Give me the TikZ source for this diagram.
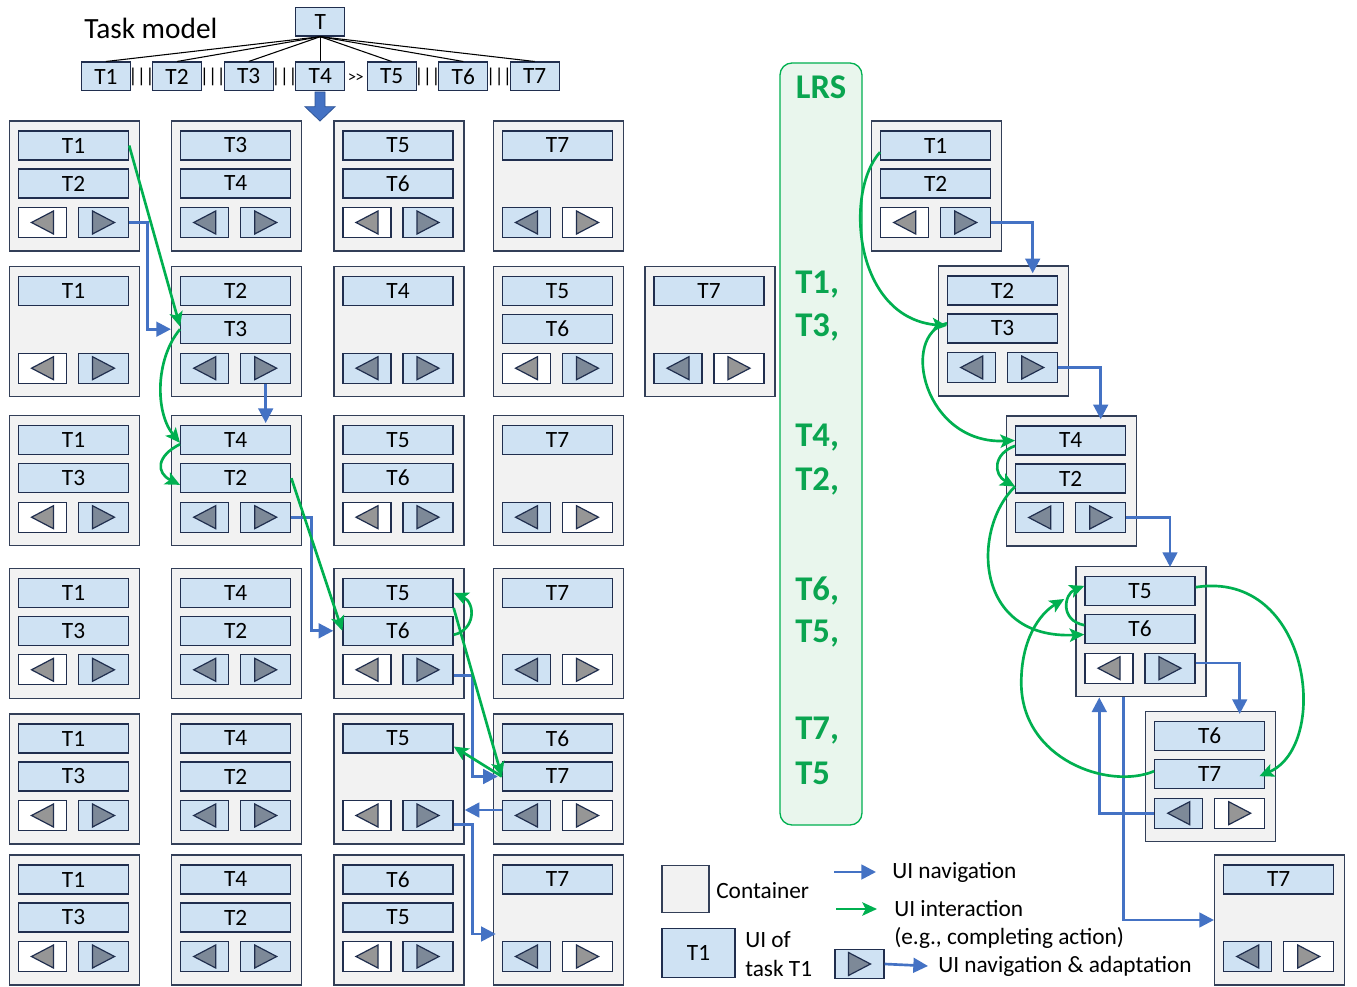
\documentclass[tikz,border=0pt]{standalone}
\usepackage{fontspec}
\setmainfont{Carlito}
\usetikzlibrary{calc,arrows.meta}
\definecolor{navblue}{RGB}{68,114,196}
\definecolor{navdark}{RGB}{47,85,151}
\definecolor{intgreen}{RGB}{0,176,80}
\definecolor{lrsgreen}{RGB}{10,165,80}
\definecolor{contfill}{RGB}{242,242,242}
\definecolor{contline}{RGB}{51,63,88}
\definecolor{slotfill}{RGB}{207,226,243}
\definecolor{slotline}{RGB}{32,46,78}
\definecolor{tridark}{RGB}{125,137,152}
\definecolor{trilight}{RGB}{150,150,150}
\definecolor{lrsfill}{RGB}{233,246,237}

\newcommand\mkcont[7]{%
  \node[cont] (#1) at (#2+65,#3+65) {};
  \node[slot] (#1a) at (#2+64,#3+24.5) {#4};
  \ifx\relax#5\relax\else\node[slot] (#1b) at (#2+64,#3+62.5) {#5};\fi
  \node[btn#6,minimum width=36pt] (#1l) at (#2+33,#3+101.5) {};
  \node[btn#7,minimum width=37.5pt] (#1r) at (#2+94,#3+101.5) {};
  \draw[tri#6] ($(#1l)+(-11,0)$) -- ++(22,-11.5) -- ++(0,23) -- cycle;
  \draw[tri#7] ($(#1r)+(11,0)$) -- ++(-22,-11.5) -- ++(0,23) -- cycle;
}
\newcommand\bars{|\kern-0.6pt|\kern-0.6pt|}

\begin{document}
\begin{tikzpicture}[x=0.75pt,y=-0.75pt,
  cont/.style={draw=contline, fill=contfill, line width=1.1pt, minimum width=97.5pt, minimum height=97.5pt, inner sep=0pt},
  slot/.style={draw=slotline, fill=slotfill, line width=1pt, minimum width=82.5pt, minimum height=21.75pt, inner sep=0pt, font=\fontsize{17.5}{20}\selectfont},
  btnw/.style={draw=slotline, fill=white, line width=1pt, minimum height=22.5pt, inner sep=0pt},
  btnb/.style={btnw, fill=slotfill},
  triw/.style={draw=slotline, fill=trilight, line width=0.9pt, line join=miter},
  trib/.style={triw, fill=tridark},
  nav/.style={draw=navblue, line width=2pt, -{Triangle[length=11pt,width=11pt]}},
  int/.style={draw=intgreen, line width=2pt, -{Stealth[length=11pt,width=10pt,inset=2.5pt]}},
  tm/.style={slot, minimum width=36.75pt, minimum height=21.5pt},
  fan/.style={draw=black, line width=0.8pt},
  op/.style={inner sep=0pt, font=\fontsize{15}{16}\selectfont},
  lbl/.style={inner sep=0pt, font=\fontsize{17.5}{21.75}\selectfont},
  lrsbox/.style={draw=intgreen, fill=lrsfill, line width=1pt, rounded corners=9pt, minimum width=61.5pt, minimum height=571.5pt, inner sep=0pt},
  lrstxt/.style={inner sep=0pt, text=lrsgreen, font=\bfseries\fontsize{26}{28}\selectfont, anchor=west}
]
\path[use as bounding box, fill=white] (0,0) rectangle (1357,987);

% ---------- Task model ----------
\node[lbl, font=\fontsize{22}{24}\selectfont, anchor=west] (tmlabel) at (84,28) {Task model};
\node[tm] (T) at (320.3,21.7) {T};
\foreach \i/\x in {1/105.9,2/177,3/248.7,4/320.3,5/391.7,6/463.3,7/534.7}
  \node[tm] (T\i) at (\x,76.5) {T\i};
\foreach \i in {1,...,7} \draw[fan] (T.south) -- (T\i.north);
\node[op] (o1) at (141.5,76.5) {\bars};
\node[op] (o2) at (212.8,76.5) {\bars};
\node[op] (o3) at (284.5,76.5) {\bars};
\node[op, font=\fontsize{12.5}{13}\selectfont] (o4) at (355.8,78.5) {>\kern-0.5pt>};
\node[op] (o5) at (427.5,76.5) {\bars};
\node[op] (o6) at (499.2,76.5) {\bars};
\filldraw[fill=navblue, draw=navdark, line width=0.6pt]
  (315,92) -- (325,92) -- (325,106.7) -- (335,106.7) -- (320,121) -- (305,106.7) -- (315,106.7) -- cycle;

% ---------- Grid of containers ----------
\mkcont{c11}{9.5}{121}{T1}{T2}{w}{b}
\mkcont{c12}{171.7}{121}{T3}{T4}{b}{b}
\mkcont{c13}{334}{121}{T5}{T6}{w}{b}
\mkcont{c14}{493.5}{121}{T7}{}{b}{w}

\mkcont{c21}{9.5}{266.7}{T1}{}{w}{b}
\mkcont{c22}{171.7}{266.7}{T2}{T3}{b}{b}
\mkcont{c23}{334}{266.7}{T4}{}{b}{b}
\mkcont{c24}{493.5}{266.7}{T5}{T6}{w}{b}
\mkcont{c25}{645}{266.7}{T7}{}{b}{w}

\mkcont{c31}{9.5}{415.7}{T1}{T3}{w}{b}
\mkcont{c32}{171.7}{415.7}{T4}{T2}{b}{b}
\mkcont{c33}{334}{415.7}{T5}{T6}{w}{b}
\mkcont{c34}{493.5}{415.7}{T7}{}{b}{w}

\mkcont{c41}{9.5}{568.3}{T1}{T3}{w}{b}
\mkcont{c42}{171.7}{568.3}{T4}{T2}{b}{b}
\mkcont{c43}{334}{568.3}{T5}{T6}{w}{b}
\mkcont{c44}{493.5}{568.3}{T7}{}{b}{w}

\mkcont{c51}{9.5}{714}{T1}{T3}{w}{b}
\mkcont{c52}{171.7}{714}{T4}{T2}{b}{b}
\mkcont{c53}{334}{714}{T5}{}{w}{b}
\mkcont{c54}{493.5}{714}{T6}{T7}{b}{w}

\mkcont{c61}{9.5}{855}{T1}{T3}{w}{b}
\mkcont{c62}{171.7}{855}{T4}{T2}{b}{b}
\mkcont{c63}{334}{855}{T6}{T5}{w}{b}
\mkcont{c64}{493.5}{855}{T7}{}{b}{w}

% ---------- LRS ----------
\node[lrsbox] (lrs) at (821,444) {};
\node[lrstxt, anchor=center] (lrst) at (821,87) {LRS};
\node[lrstxt] (l1) at (795,285) {T1,};
\node[lrstxt] (l2) at (795,327) {T3,};
\node[lrstxt] (l3) at (795,438) {T4,};
\node[lrstxt] (l4) at (795,481) {T2,};
\node[lrstxt] (l5) at (795,591) {T6,};
\node[lrstxt] (l6) at (795,634) {T5,};
\node[lrstxt] (l7) at (795,731) {T7,};
\node[lrstxt] (l8) at (795,773) {T5};

% ---------- Adaptive (right) ----------
\mkcont{r1}{871.7}{121}{T1}{T2}{w}{b}
\mkcont{r2}{938.7}{266}{T2}{T3}{b}{b}
\mkcont{r3}{1006.7}{416}{T4}{T2}{b}{b}
\mkcont{r4}{1076}{566.7}{T5}{T6}{w}{b}
\mkcont{r5}{1145.7}{711.7}{T6}{T7}{b}{w}
\mkcont{r6}{1214.7}{855}{T7}{}{b}{w}

% ---------- Legend ----------
\node[cont, minimum width=35.25pt, minimum height=35.25pt] (lgc) at (685.5,889) {};
\node[lbl, anchor=west] (lgct) at (716,891) {Container};
\node[slot, minimum width=54.75pt, minimum height=36.75pt] (lgt) at (698.5,953) {T1};
\node[lbl, anchor=west, align=left] (lgtt) at (745,954) {UI of\\task T1};
\node[lbl, anchor=west] (lnav) at (892,872) {UI navigation};
\node[lbl, anchor=west] (lint) at (894,909) {UI interaction};
\node[lbl, anchor=west] (leg) at (894,938) {(e.g., completing action)};
\node[btnb, minimum width=36.75pt, minimum height=21.75pt] (lgb) at (859.5,964) {};
\draw[trib] ($(lgb)+(11,0)$) -- ++(-22,-11.5) -- ++(0,23) -- cycle;
\node[lbl, anchor=west] (lna) at (938,966) {UI navigation \& adaptation};

% ---------- Connectors: left grid ----------
\draw[nav] (c11r.east) -- ++(18,0) |- (c22.west |- c22b);
\draw[nav] (c22r.south) -- ($(c22r.south |- c32a.north)+(0,-2)$);
\draw[nav] (c32r.east) -- ++(20,0) |- (c43.west |- c43b);
\draw[nav] ([yshift=-4.5pt]c43r.east) -- ++(19,0) |- ($(c54b.west)+(-4,0)$);
\draw[nav] ($(c54l.west)+(0,-5.5)$) -- ($(c54l.west -| c53.east)+(0,-5.5)$);
\draw[nav] ([yshift=-6.75pt]c53r.east) -- ++(19,0) |- ($(c64.west)+(3,14)$);

\draw[int] (c11a.east) -- ([yshift=2pt]c22b.west);
\draw[int] (c22b.west) .. controls +(-25,30) and +(-25,-30) .. ([yshift=-2pt]c32a.west);
\draw[int] ([yshift=-3pt]c32a.west) .. controls +(-24,12) and +(-24,-12) .. ([yshift=-5pt]c32b.west);
\draw[int] (c32b.east) -- (c43b.west);
\draw[int] ([yshift=-3pt]c43b.east) .. controls +(22,-5) and +(22,10) .. (c43a.east);
\draw[int] (c43a.south east) -- (c54b.west);
\draw[int] (c54b.west) -- ([yshift=-6pt]c53a.east);

% ---------- Connectors: right ----------
\draw[nav] (r1r.east) -| ($(r2r |- r2.north)+(0,8)$);
\draw[nav] (r2r.east) -| ($(r3r |- r3.north)+(0,4)$);
\draw[nav] (r3r.east) -| ($(r4r |- r4.north)+(0,1)$);
\draw[nav] ([yshift=4pt]r4r.east) -| ($(r5r |- r5.north)+(0,3)$);
\draw[nav] (r5l.west) -| ($(r4.south west)+(24,0)$);
\draw[nav] ($(r4.south west)+(48.5,0)$) |- (r6.west);

\draw[int] ([yshift=-5pt]r1a.west) .. controls +(-36,40) and +(-93,-8) .. ([yshift=2pt]r2b.west);
\draw[int] ([yshift=4pt]r2b.west) .. controls +(-48,12) and +(-91,4) .. (r3a.west);
\draw[int] ([yshift=-4pt]r3a.west) .. controls +(-22,8) and +(-22,-12) .. ([yshift=-6pt]r3b.west);
\draw[int] ([yshift=-6pt]r3b.west) .. controls +(-44,43) and +(-110,5) .. ([yshift=-4pt]r4b.west);
\draw[int] ([yshift=3pt]r4b.west) .. controls +(-25,-5) and +(-20,8) .. ([yshift=4pt]r4a.west);
\draw[int] ([yshift=3pt]r4a.east) .. controls +(115,-18) and +(72,-31) .. ($(r5b.east)+(-6,2)$);
\coordinate (r7mid) at ($(r4.west)+(-54,51)$);
\coordinate (r7tip) at ($(r4.north west)+(-11,33)$);
\draw[int] ($(r5b.west)+(0,-3)$) .. controls +(-45,19) and +(0,77) .. (r7mid)
  .. controls +(0,-43) and +(-25,15) .. (r7tip);

% ---------- Legend arrows ----------
\draw[nav] ($(lnav.west)+(-58,0)$) -- ($(lnav.west)+(-16,0)$);
\draw[int] ($(lint.west)+(-58,0)$) -- ($(lint.west)+(-17,0)$);
\draw[nav] (lgb.east) -- ($(lna.west)+(-10,0)$);
\end{tikzpicture}
\end{document}
